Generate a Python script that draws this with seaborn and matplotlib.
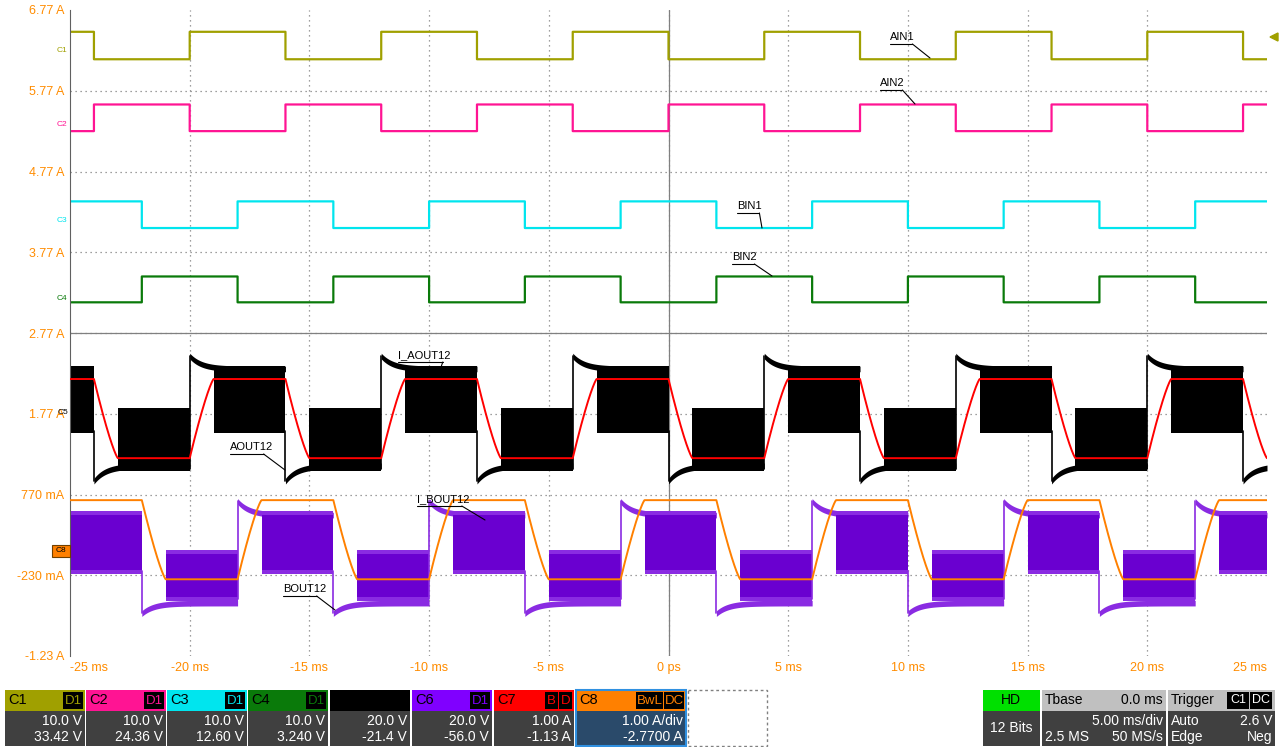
import numpy as np
import matplotlib
matplotlib.use("Agg")
import matplotlib.pyplot as plt
import seaborn as sns
from matplotlib.patches import Rectangle

sns.set_style("white")
plt.rcParams['font.family'] = ['Liberation Sans', 'DejaVu Sans']

# ---- data ----
t_min, t_max = -25, 25
y_ticks = [6.77, 5.77, 4.77, 3.77, 2.77, 1.77, 0.77, -0.23, -1.23]
y_labels = ["6.77 A", "5.77 A", "4.77 A", "3.77 A", "2.77 A", "1.77 A", "770 mA", "-230 mA", "-1.23 A"]
x_ticks = [-25, -20, -15, -10, -5, 0, 5, 10, 15, 20, 25]
x_labels = ["-25 ms", "-20 ms", "-15 ms", "-10 ms", "-5 ms", "0 ps", "5 ms", "10 ms", "15 ms", "20 ms", "25 ms"]
edges_A = [-24, -20, -16, -12, -8, -4, 0, 4, 8, 12, 16, 20, 24]   # C1/C2/C5/C7 edges
edges_B = [-22, -18, -14, -10, -6, -2, 2, 6, 10, 14, 18, 22]      # C3/C4/C6/C8 edges
c1_levels = (6.50, 6.16)   # (high, low)
c2_levels = (5.60, 5.27)
c3_levels = (4.40, 4.07)
c4_levels = (3.47, 3.15)
c7_levels = (2.20, 1.22)
c8_levels = (0.70, -0.28)
c5_hi = dict(spike=2.49, settle=2.33, band=(2.33, 1.56))
c5_lo = dict(spike=0.94, settle=1.13, band=(1.81, 1.09))
c6_hi = dict(spike=0.69, settle=0.52, band=(0.54, -0.18))
c6_lo = dict(spike=-0.70, settle=-0.57, band=(0.05, -0.52))

t = np.linspace(t_min, t_max, 6001)

def state(edges, start_high):
    n = np.searchsorted(edges, t, side='right')
    hi = (n % 2 == 0) if start_high else (n % 2 == 1)
    return hi, n

def square(edges, levels, start_high):
    hi, _ = state(edges, start_high)
    return np.where(hi, levels[0], levels[1])

def ramped(edges, levels, start_high, ramp=1.0):
    hi, n = state(edges, start_high)
    v = np.where(hi, levels[0], levels[1]).astype(float)
    e = np.array([-99] + list(edges))
    last = e[n]
    s = (t - last) / ramp
    m = (s >= 0) & (s < 1)
    old = np.where(hi, levels[1], levels[0])
    frac = 1 - (1 - s[m]) ** 1.25
    v[m] = old[m] + (v[m] - old[m]) * frac
    return v

fig = plt.figure(figsize=(12.8, 7.47), dpi=100)
W, H = 1280, 747
ax = fig.add_axes([70 / W, 1 - 656 / H, 1197 / W, 646 / H])
ax.set_xlim(t_min, t_max)
ax.set_ylim(-1.23, 6.77)

for yv in y_ticks[1:-1]:
    ax.axhline(yv, color="#808080", lw=0.9, ls=(0, (1, 3)), zorder=0)
for xv in x_ticks[1:-1]:
    ax.axvline(xv, color="#808080", lw=0.9, ls=(0, (1, 3)), zorder=0)
ax.axhline(2.77, color="#808080", lw=0.9, zorder=0)
ax.axvline(0, color="#808080", lw=0.9, zorder=0)

sns.lineplot(x=t, y=square(edges_A, c1_levels, True), ax=ax, color="#a0a000", lw=1.6, drawstyle="steps-post")
sns.lineplot(x=t, y=square(edges_A, c2_levels, False), ax=ax, color="#ff1493", lw=1.6, drawstyle="steps-post")
sns.lineplot(x=t, y=square(edges_B, c3_levels, True), ax=ax, color="#00e5ee", lw=1.6, drawstyle="steps-post")
sns.lineplot(x=t, y=square(edges_B, c4_levels, False), ax=ax, color="#0a7a0a", lw=1.6, drawstyle="steps-post")

def noisy(edges, start_high, hi_p, lo_p, color, edgecolor, solid=1.0):
    full = [t_min] + list(edges) + [t_max]
    cur_hi = start_high
    for i in range(len(full) - 1):
        a, b = full[i], full[i + 1]
        p = hi_p if cur_hi else lo_p
        mid = min(a + solid, b)
        if i > 0:
            tt = np.linspace(a, b, 200)
            curve = p['settle'] + (p['spike'] - p['settle']) * np.exp(-(tt - a) / 0.5)
            ax.fill_between(tt, curve - 0.04, curve + 0.03, color=edgecolor, lw=0, zorder=2)
            prevp = lo_p if cur_hi else hi_p
            ax.plot([a, a], [prevp['band'][1], p['spike']], color=edgecolor, lw=1.2, zorder=2)
            bs = mid
        else:
            bs = a
        if b > bs:
            ax.fill_between([bs, b], [p['band'][1]] * 2, [p['band'][0]] * 2, color=color, lw=0, zorder=2)
            ax.fill_between([bs, b], [p['band'][0] - 0.02] * 2, [p['band'][0] + 0.03] * 2, color=edgecolor, lw=0, zorder=2)
            ax.fill_between([bs, b], [p['band'][1] - 0.03] * 2, [p['band'][1] + 0.02] * 2, color=edgecolor, lw=0, zorder=2)
        cur_hi = not cur_hi

noisy(edges_A, True, c5_hi, c5_lo, "black", "black")
noisy(edges_B, True, c6_hi, c6_lo, "#6a00d0", "#8a2be2")
ax.plot(t, ramped(edges_A, c7_levels, True), color="#ff0000", lw=1.4, zorder=3)
ax.plot(t, ramped(edges_B, c8_levels, True), color="#ff8000", lw=1.4, zorder=3)

ax.set_yticks(y_ticks)
ax.set_yticklabels(y_labels)
ax.set_xticks(x_ticks)
ax.set_xticklabels(x_labels)
ax.tick_params(colors="#ff8c00", labelsize=9, length=0, pad=4)
for lbl in ax.get_xticklabels() + ax.get_yticklabels():
    lbl.set_color("#ff8c00")
ax.get_xticklabels()[0].set_ha("left")
ax.get_xticklabels()[-1].set_ha("right")
for s in ax.spines.values():
    s.set_visible(False)
ax.spines['left'].set_visible(True)
ax.spines['left'].set_color("#606060")

# annotations
annots = [("AIN1", 890, 37, 930, 58), ("AIN2", 880, 83, 915, 104), ("BIN1", 737, 206, 762, 228),
          ("BIN2", 732, 257, 772, 276), ("I_AOUT12", 398, 355, 440, 370), ("AOUT12", 230, 447, 285, 470),
          ("I_BOUT12", 417, 499, 485, 520), ("BOUT12", 283, 589, 335, 610)]

ov = fig.add_axes([0, 0, 1, 1], facecolor="none")
ov.set_xlim(0, W)
ov.set_ylim(H, 0)
ov.axis("off")
for txt, x, y, x2, y2 in annots:
    ov.text(x, y, txt, fontsize=8, ha="left", va="center", color="black")
    w = len(txt) * 5.6
    ov.plot([x, x + w], [y + 7, y + 7], color="black", lw=0.8)
    ov.plot([x + w, x2], [y + 7, y2], color="black", lw=0.8)

for txt, y, c in [("C1", 50, "#a0a000"), ("C2", 125, "#ff1493"), ("C3", 220, "#00e5ee"), ("C4", 298, "#0a7a0a")]:
    ov.text(57, y, txt, fontsize=6, color=c, ha="left", va="center")
ov.text(58, 412, "C5", fontsize=6, color="black", ha="left", va="center")
ov.add_patch(Rectangle((52, 545), 18, 12, fc="#ff8000", ec="#704000", lw=0.8))
ov.text(61, 551, "C8", fontsize=6, ha="center", va="center", color="black")
ov.fill([1270, 1278, 1278], [37, 33, 41], color="#a0a000")

# bottom status bar
hy0, hy1, vy1 = 690, 711, 746
def box(x0, x1, hcol, name, badges, v1, v2, tcol="black", vbg="#404040"):
    ov.add_patch(Rectangle((x0, hy0), x1 - x0, hy1 - hy0, fc=hcol, ec="none"))
    ov.add_patch(Rectangle((x0, hy1), x1 - x0, vy1 - hy1, fc=vbg, ec="none"))
    if name:
        ov.text(x0 + 3, (hy0 + hy1) / 2, name, fontsize=10.5, color=tcol, va="center")
    bx = x1 - 2
    for b in reversed(badges):
        bw = 7 * len(b) + 6
        ov.add_patch(Rectangle((bx - bw, hy0 + 2), bw, hy1 - hy0 - 4, fc="black", ec="none"))
        ov.text(bx - bw / 2, (hy0 + hy1) / 2, b, fontsize=9.5, color=hcol, ha="center", va="center")
        bx -= bw + 1
    ov.text(x1 - 3, 721, v1, fontsize=10, color="white", ha="right", va="center")
    ov.text(x1 - 3, 737, v2, fontsize=10, color="white", ha="right", va="center")

box(5, 85, "#a0a000", "C1", ["D1"], "10.0 V", "33.42 V")
box(86, 166, "#ff1493", "C2", ["D1"], "10.0 V", "24.36 V")
box(167, 247, "#00e5ee", "C3", ["D1"], "10.0 V", "12.60 V")
box(248, 328, "#0a7a0a", "C4", ["D1"], "10.0 V", "3.240 V")
box(330, 410, "black", "", [], "20.0 V", "-21.4 V")
box(412, 492, "#8000ff", "C6", ["D1"], "20.0 V", "-56.0 V")
box(494, 574, "#ff0000", "C7", ["B", "D"], "1.00 A", "-1.13 A")
box(576, 686, "#ff8000", "C8", ["BwL", "DC"], "1.00 A/div", "-2.7700 A", vbg="#2a4a6a")
ov.add_patch(Rectangle((576, hy0), 110, vy1 - hy0, fc="none", ec="#3090e0", lw=1.5))
ov.add_patch(Rectangle((688, hy0), 79, vy1 - hy0, fc="none", ec="#808080", lw=1, ls=(0, (2, 2))))

# HD
ov.add_patch(Rectangle((983, hy0), 57, hy1 - hy0, fc="#00e000", ec="none"))
ov.add_patch(Rectangle((983, hy1), 57, vy1 - hy1, fc="#404040", ec="none"))
ov.text(1011, 700, "HD", fontsize=10, ha="center", va="center", color="black")
ov.text(1011, 728, "12 Bits", fontsize=10, ha="center", va="center", color="white")
# Tbase
ov.add_patch(Rectangle((1042, hy0), 124, hy1 - hy0, fc="#c0c0c0", ec="none"))
ov.add_patch(Rectangle((1042, hy1), 124, vy1 - hy1, fc="#404040", ec="none"))
ov.text(1045, 700, "Tbase", fontsize=10, va="center", color="black")
ov.text(1163, 700, "0.0 ms", fontsize=10, ha="right", va="center", color="black")
ov.text(1163, 721, "5.00 ms/div", fontsize=10, ha="right", va="center", color="white")
ov.text(1045, 737, "2.5 MS", fontsize=10, va="center", color="white")
ov.text(1163, 737, "50 MS/s", fontsize=10, ha="right", va="center", color="white")
# Trigger
ov.add_patch(Rectangle((1168, hy0), 107, hy1 - hy0, fc="#c0c0c0", ec="none"))
ov.add_patch(Rectangle((1168, hy1), 107, vy1 - hy1, fc="#404040", ec="none"))
ov.text(1171, 700, "Trigger", fontsize=10, va="center", color="black")
for bx, b in [(1227, "C1"), (1250, "DC")]:
    ov.add_patch(Rectangle((bx, hy0 + 2), 22, hy1 - hy0 - 4, fc="black", ec="none"))
    ov.text(bx + 11, 700, b, fontsize=9, ha="center", va="center", color="white")
ov.text(1171, 721, "Auto", fontsize=10, va="center", color="white")
ov.text(1272, 721, "2.6 V", fontsize=10, ha="right", va="center", color="white")
ov.text(1171, 737, "Edge", fontsize=10, va="center", color="white")
ov.text(1272, 737, "Neg", fontsize=10, ha="right", va="center", color="white")

fig.savefig("out.png", dpi=100)
